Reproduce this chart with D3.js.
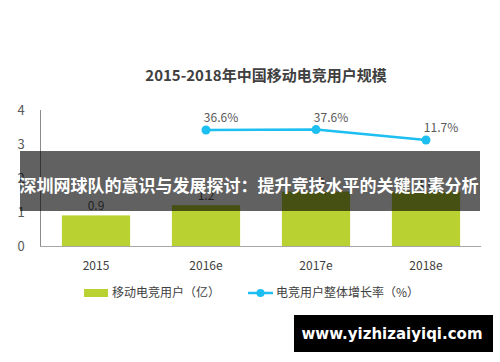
<!DOCTYPE html>
<html>
<head>
<meta charset="utf-8">
<script src="https://cdn.jsdelivr.net/npm/d3@7"></script>
<style>
  body { margin: 0; background: #fff; }
  svg { display: block; font-family: "Noto Sans CJK SC", "Open Sans", sans-serif; }
</style>
</head>
<body>
<svg id="chart" width="500" height="362"></svg>
<script>
const years = ["2015", "2016e", "2017e", "2018e"];
const users = [0.9, 1.2, 1.6, 1.6];          // 移动电竞用户（亿）
const userLabels = ["0.9", "1.2", "1.6", "1.8"];
const growthYears = ["2016e", "2017e", "2018e"];
const growth = [36.6, 37.6, 11.7];           // 电竞用户整体增长率（%）
const yTicks = [0, 1, 2, 3, 4];

let svg = d3.select("#chart");

// title
svg.append("text")
    .attr("x", 266).attr("y", 81)
    .attr("text-anchor", "middle")
    .style("font-size", "15px").style("font-weight", "bold")
    .style("fill", "#404040")
    .text("2015-2018年中国移动电竞用户规模");

let x = d3.scaleBand()
    .domain(years)
    .range([41, 481])
    .paddingInner(0.38)
    .paddingOuter(0.19);

let y = d3.scaleLinear()
    .domain([0, 4])
    .range([246, 110]);

// growth rate uses a hidden right axis
let y2 = d3.scaleLinear()
    .domain([0, 40])
    .range([144.7, 128.6]);

// axes lines
svg.append("line")
    .attr("x1", 40.5).attr("x2", 40.5)
    .attr("y1", y(4)).attr("y2", y(0))
    .style("stroke", "#8c8c8c").style("stroke-width", 1);
svg.append("line")
    .attr("x1", 40).attr("x2", 481)
    .attr("y1", y(0) + 0.5).attr("y2", y(0) + 0.5)
    .style("stroke", "#a6a6a6").style("stroke-width", 1);

svg.append("g").selectAll("text")
    .data(yTicks)
    .join("text")
    .attr("x", 21)
    .attr("y", d => y(d) + 5)
    .attr("text-anchor", "middle")
    .style("font-size", "13px").style("fill", "#595959")
    .text(d => d);

// bars
svg.append("g").selectAll("rect")
    .data(users)
    .join("rect")
    .attr("x", (d, i) => x(years[i]))
    .attr("y", d => y(d))
    .attr("width", x.bandwidth())
    .attr("height", d => y(0) - y(d))
    .style("fill", "#b9d131");

svg.append("g").selectAll("text")
    .data(users)
    .join("text")
    .attr("x", (d, i) => x(years[i]) + x.bandwidth() / 2)
    .attr("y", d => y(d) - 5)
    .attr("text-anchor", "middle")
    .style("font-size", "12px").style("fill", "#595959")
    .text((d, i) => userLabels[i]);

// x labels
svg.append("g").selectAll("text")
    .data(years)
    .join("text")
    .attr("x", d => x(d) + x.bandwidth() / 2)
    .attr("y", 270)
    .attr("text-anchor", "middle")
    .style("font-size", "12px").style("fill", "#404040")
    .text(d => d);

// growth line
let line = d3.line()
    .x((d, i) => x(growthYears[i]) + x.bandwidth() / 2)
    .y(d => y2(d));

svg.append("path")
    .datum(growth)
    .attr("d", line)
    .style("fill", "none")
    .style("stroke", "#1dbff0")
    .style("stroke-width", 2.5);

svg.append("g").selectAll("circle")
    .data(growth)
    .join("circle")
    .attr("cx", (d, i) => x(growthYears[i]) + x.bandwidth() / 2)
    .attr("cy", d => y2(d))
    .attr("r", 4.5)
    .style("fill", "#1dbff0");

svg.append("g").selectAll("text")
    .data(growth)
    .join("text")
    .attr("x", (d, i) => x(growthYears[i]) + x.bandwidth() / 2 + 15)
    .attr("y", d => y2(d) - 8)
    .attr("text-anchor", "middle")
    .style("font-size", "12px").style("fill", "#595959")
    .text(d => d.toFixed(1) + "%");

// legend
svg.append("rect")
    .attr("x", 84).attr("y", 289).attr("width", 24).attr("height", 8)
    .style("fill", "#b9d131");
svg.append("text")
    .attr("x", 112).attr("y", 297)
    .style("font-size", "12px").style("fill", "#404040")
    .text("移动电竞用户（亿）");
svg.append("line")
    .attr("x1", 248).attr("x2", 273).attr("y1", 293).attr("y2", 293)
    .style("stroke", "#1dbff0").style("stroke-width", 2.5);
svg.append("circle")
    .attr("cx", 260.5).attr("cy", 293).attr("r", 4)
    .style("fill", "#1dbff0");
svg.append("text")
    .attr("x", 276).attr("y", 297)
    .style("font-size", "12px").style("fill", "#404040")
    .text("电竞用户整体增长率（%）");

// overlay banner
svg.append("rect")
    .attr("x", 20).attr("y", 151).attr("width", 460).attr("height", 60)
    .style("fill", "rgba(0,0,0,0.62)");
svg.append("text")
    .attr("x", 249).attr("y", 192)
    .attr("text-anchor", "middle")
    .style("font-size", "17px").style("font-weight", "bold")
    .style("fill", "#fff")
    .text("深圳网球队的意识与发展探讨：提升竞技水平的关键因素分析");

// watermark
svg.append("rect")
    .attr("x", 294).attr("y", 315).attr("width", 199).attr("height", 37)
    .style("fill", "#000");
svg.append("text")
    .attr("x", 392).attr("y", 339)
    .attr("text-anchor", "middle")
    .style("font-family", "'DejaVu Sans', sans-serif")
    .style("font-size", "15px").style("font-weight", "bold")
    .style("fill", "#fff")
    .text("www.yizhizaiyiqi.com");
</script>
</body>
</html>
